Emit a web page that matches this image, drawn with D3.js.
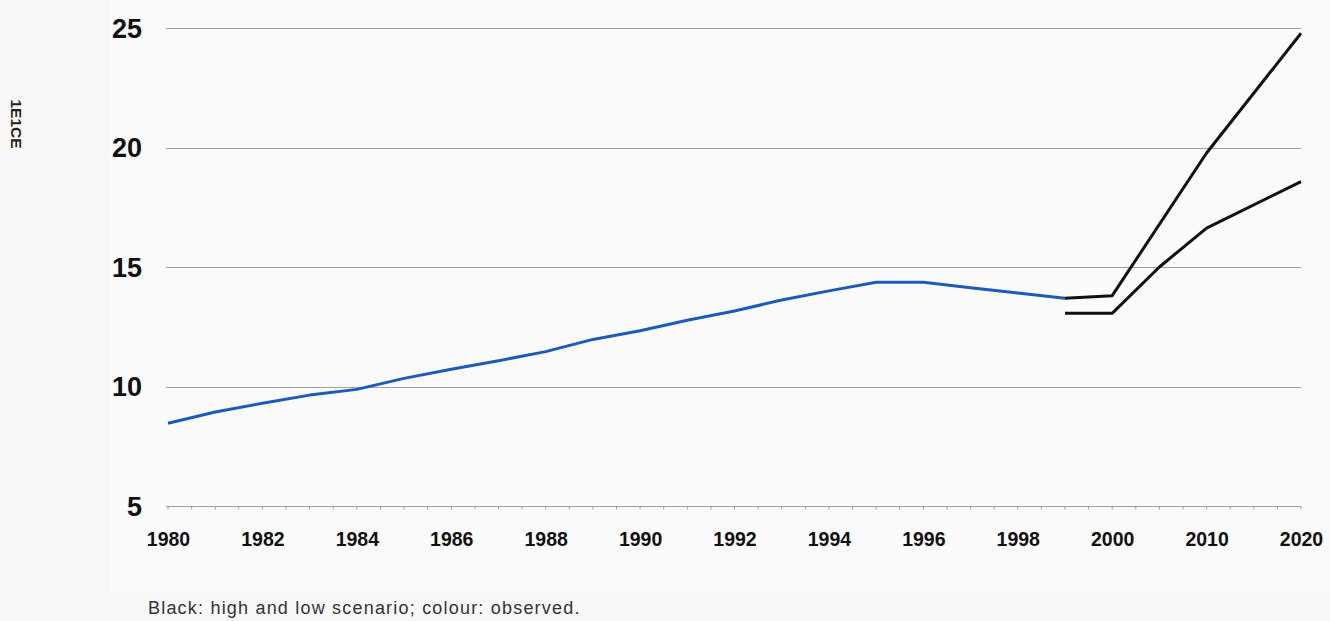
<!DOCTYPE html>
<html>
<head>
<meta charset="utf-8">
<script src="https://cdn.jsdelivr.net/npm/d3@7"></script>
<style>
  html, body { margin: 0; padding: 0; background: #f8f8f8; }
  svg { display: block; }
</style>
</head>
<body>
<script>
// ---- data ----
const categories = ["1980","1981","1982","1983","1984","1985","1986","1987","1988","1989",
  "1990","1991","1992","1993","1994","1995","1996","1997","1998","1999","2000",
  "2005","2010","2015","2020"];
const tickLabels = ["1980","1982","1984","1986","1988","1990","1992","1994","1996","1998","2000","2010","2020"];
const yTicks = [5, 10, 15, 20, 25];

const observedYears = ["1980","1981","1982","1983","1984","1985","1986","1987","1988","1989",
  "1990","1991","1992","1993","1994","1995","1996","1997","1998","1999"];
const observedValues = [8.46, 8.93, 9.30, 9.64, 9.88, 10.34, 10.72, 11.08, 11.46, 11.97,
  12.33, 12.77, 13.16, 13.62, 14.00, 14.36, 14.36, 14.13, 13.91, 13.69];

const highYears = ["1999","2000","2010","2020"];
const highValues = [13.69, 13.80, 19.77, 24.78];

const lowYears = ["1999","2000","2005","2010","2020"];
const lowValues = [13.06, 13.06, 15.00, 16.63, 18.57];

const yLabel = "1E1CE";
const footnote = "Black: high and low scenario; colour: observed.";

// ---- chart ----
const W = 1330, H = 621;
const svg = d3.select("body").append("svg").attr("width", W).attr("height", H);

svg.append("rect").attr("width", W).attr("height", H).attr("fill", "#f8f8f8");
svg.append("rect").attr("x", 110).attr("y", 0).attr("width", 1220).attr("height", 590).attr("fill", "#fbfbfb");

const x = d3.scalePoint().domain(categories).range([168, 1301]).padding(0);
const y = d3.scaleLinear().domain([5, 25]).range([506, 28]);

// gridlines
const grid = svg.append("g");
grid.selectAll("line").data(yTicks).join("line")
  .attr("x1", 166).attr("x2", 1301)
  .attr("y1", d => Math.round(y(d)) + 0.5).attr("y2", d => Math.round(y(d)) + 0.5)
  .attr("stroke", "#a0a0a0").attr("stroke-width", 1);

// minor ticks on bottom line at every half step
const step = x.step();
const minor = [];
categories.forEach((c, i) => { minor.push(x(c)); if (i < categories.length - 1) minor.push(x(c) + step / 2); });
svg.append("g").selectAll("line").data(minor).join("line")
  .attr("x1", d => d).attr("x2", d => d)
  .attr("y1", Math.round(y(5)) + 0.5).attr("y2", Math.round(y(5)) + 3.5)
  .attr("stroke", "#a0a0a0").attr("stroke-width", 1);

// y tick labels
svg.append("g").selectAll("text").data(yTicks).join("text")
  .attr("x", 142).attr("y", d => y(d)).attr("dy", "0.36em")
  .attr("text-anchor", "end")
  .attr("font-family", "Liberation Sans, Arial, sans-serif")
  .attr("font-weight", "bold").attr("font-size", 27).attr("fill", "#111")
  .text(d => d);

// x axis labels via d3 axis
const xAxis = d3.axisBottom(x).tickValues(tickLabels).tickSize(0).tickPadding(0);
const gx = svg.append("g").attr("transform", "translate(0,532)").call(xAxis);
gx.select(".domain").remove();
gx.selectAll("text")
  .attr("font-family", "Liberation Sans, Arial, sans-serif")
  .attr("font-weight", "bold").attr("font-size", 19.5).attr("fill", "#111")
  .attr("dy", "0.71em");

// y axis title
svg.append("text")
  .attr("transform", "translate(11,124) rotate(90)")
  .attr("text-anchor", "middle")
  .attr("font-family", "Liberation Sans, Arial, sans-serif")
  .attr("font-weight", "bold").attr("font-size", 15.5).attr("fill", "#222")
  .text(yLabel);

// lines
const line = d3.line().x(d => x(d[0])).y(d => y(d[1]));

svg.append("path")
  .datum(highYears.map((c, i) => [c, highValues[i]]))
  .attr("d", line).attr("fill", "none").attr("stroke", "#111")
  .attr("stroke-width", 3).attr("stroke-linejoin", "round");

svg.append("path")
  .datum(lowYears.map((c, i) => [c, lowValues[i]]))
  .attr("d", line).attr("fill", "none").attr("stroke", "#111")
  .attr("stroke-width", 3).attr("stroke-linejoin", "round");

svg.append("path")
  .datum(observedYears.map((c, i) => [c, observedValues[i]]))
  .attr("d", line).attr("fill", "none").attr("stroke", "#1d5bb8")
  .attr("stroke-width", 3).attr("stroke-linejoin", "round");

// footnote
svg.append("text")
  .attr("x", 148).attr("y", 614)
  .attr("font-family", "Liberation Sans, Arial, sans-serif")
  .attr("font-size", 18).attr("fill", "#333").attr("letter-spacing", "1.2px")
  .text(footnote);
</script>
</body>
</html>
